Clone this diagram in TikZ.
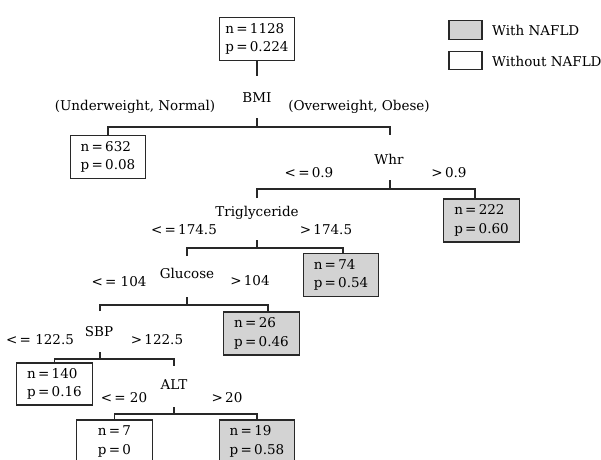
\documentclass[tikz,border=0pt]{standalone}
\usepackage{fontspec}
\setmainfont{DejaVu Serif}
\definecolor{nafld}{RGB}{211,211,211}
\definecolor{ln}{RGB}{40,40,40}
\tikzset{
  leaf/.style={draw=ln, line width=1.2pt, minimum width=75.5pt, minimum height=43pt, inner sep=0pt, align=left, font=\fontsize{13.5}{18.5}\selectfont},
  posbox/.style={leaf, fill=nafld},
  negbox/.style={leaf, fill=white},
  lbl/.style={inner sep=0pt, font=\fontsize{13.5}{16}\selectfont},
  edge/.style={draw=ln, line width=1.2pt},
  legbox/.style={draw=ln, line width=1.1pt, minimum width=33pt, minimum height=18.5pt, inner sep=0pt}
}
\begin{document}
\begin{tikzpicture}[x=1pt,y=-1pt]
\path[use as bounding box] (0,0) rectangle (601,459);
\clip (0,0) rectangle (601,459);
% legend
\node[legbox, fill=nafld] (lg1) at (465.5,30) {};
\node[legbox, fill=white] (lg2) at (465.5,60.5) {};
\node[lbl, anchor=west] (lt1) at (492,30) {With NAFLD};
\node[lbl, anchor=west] (lt2) at (492,61) {Without NAFLD};
% boxes
\node[negbox] (root) at (257,39) {n\,=\,1128\\p\,=\,0.224};
\node[negbox] (b632) at (108,157) {n\,=\,632\\p\,=\,0.08};
\node[posbox] (b222) at (481.5,220.5) {n\,=\,222\\p\,=\,0.60};
\node[posbox] (b74) at (341,275) {n\,=\,74\\p\,=\,0.54};
\node[posbox] (b26) at (261.5,333.5) {n\,=\,26\\p\,=\,0.46};
\node[negbox, minimum height=42pt] (b140) at (54.5,384) {n\,=\,140\\p\,=\,0.16};
\node[negbox] (b7) at (114.5,441.5) {n\,=\,7\\p\,=\,0};
\node[posbox] (b19) at (257,441.5) {n\,=\,19\\p\,=\,0.58};
% split labels
\node[lbl] (bmi) at (257,98) {BMI};
\node[lbl] (whr) at (389,159) {Whr};
\node[lbl] (tri) at (257,213) {Triglyceride};
\node[lbl] (glu) at (187,273) {Glucose};
\node[lbl] (sbp) at (99,332) {SBP};
\node[lbl] (alt) at (174,385) {ALT};
% branch labels
\node[lbl] (l1a) at (135,107) {(Underweight, Normal)};
\node[lbl] (l1b) at (359,107) {(Overweight, Obese)};
\node[lbl] (l2a) at (309,173) {<\,=\,0.9};
\node[lbl] (l2b) at (449,173) {>\,0.9};
\node[lbl] (l3a) at (184,230) {<\,=\,174.5};
\node[lbl] (l3b) at (326,230) {>\,174.5};
\node[lbl] (l4a) at (119,282) {<\,= 104};
\node[lbl] (l4b) at (250,281) {>\,104};
\node[lbl] (l5a) at (40,340) {<\,= 122.5};
\node[lbl] (l5b) at (157,340) {>\,122.5};
\node[lbl] (l6a) at (124,398) {<\,= 20};
\node[lbl] (l6b) at (227,398) {>\,20};
% junction coordinates
\coordinate (r0) at (257,76);
\coordinate (t0) at (257,118);
\coordinate (j0) at (257,127);
\coordinate (whrTop) at (390,135);
\coordinate (t1) at (390,180);
\coordinate (j1) at (390,189);
\coordinate (k222) at (475,199);
\coordinate (triTop) at (257,198);
\coordinate (t2) at (257,240);
\coordinate (j2) at (257,248);
\coordinate (k74) at (343,253);
\coordinate (gluTop) at (187,256);
\coordinate (t3) at (187,297);
\coordinate (j3) at (187,305);
\coordinate (k26) at (268,312);
\coordinate (sbpTop) at (100,311);
\coordinate (t4) at (100,352);
\coordinate (j4) at (100,359);
\coordinate (altTop) at (174,366);
\coordinate (t5) at (174,407);
\coordinate (j5) at (174,414);
% connectors
\draw[edge] (root.south) -- (r0);
\draw[edge] (t0) -- (j0);
\draw[edge] (b632.north) |- (j0) -| (whrTop);
\draw[edge] (t1) -- (j1);
\draw[edge] (triTop) |- (j1) -| (k222);
\draw[edge] (t2) -- (j2);
\draw[edge] (gluTop) |- (j2) -| (k74);
\draw[edge] (t3) -- (j3);
\draw[edge] (sbpTop) |- (j3) -| (k26);
\draw[edge] (t4) -- (j4);
\draw[edge] (b140.north) |- (j4) -| (altTop);
\draw[edge] (t5) -- (j5);
\draw[edge] (b7.north) |- (j5) -| (b19.north);
\end{tikzpicture}
\end{document}
